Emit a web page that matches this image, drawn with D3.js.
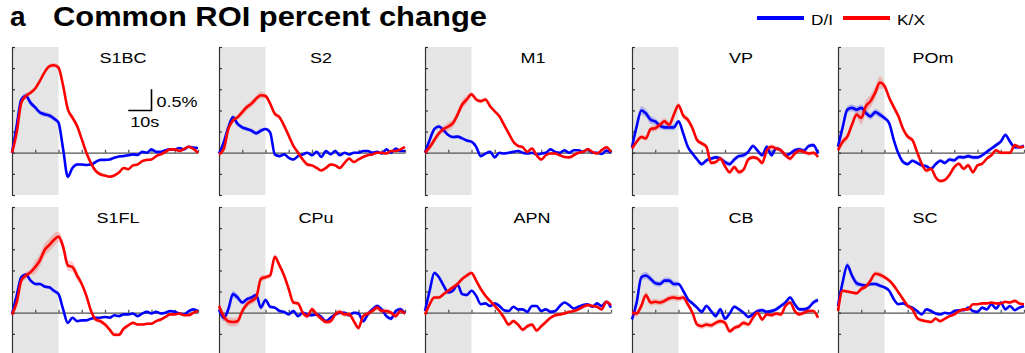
<!DOCTYPE html>
<html>
<head>
<meta charset="utf-8">
<script src="https://cdn.jsdelivr.net/npm/d3@7"></script>
<style>
  html, body { margin: 0; padding: 0; background: #fff; }
  svg { display: block; font-family: Arial, "Liberation Sans", sans-serif; }
</style>
</head>
<body>
<div id="chart"></div>
<script>
// % change traces, sampled every 2 s from 0 to 80 s (41 points each)
const TIME_STEP = 2;
const T_MAX = 80;
const STIM = [0, 20];          // shaded stimulus window, s
const Y_TICKS = [-1, -0.5, 0, 0.5, 1, 1.5, 2, 2.5];
const X_TICKS = [10, 20, 30, 40, 50, 60, 70, 80];
const SCALE_T = [50, 60];      // 10 s scale bar
const SCALE_V = [1.0, 1.5];    // 0.5 % scale bar

const REGIONS = ['S1BC', 'S2', 'M1', 'VP', 'POm', 'S1FL', 'CPu', 'APN', 'CB', 'SC'];
const CONDITIONS = ['D/I', 'K/X'];

const DI_S1BC = [0, 0.63, 1.26, 1.34, 1.18, 1.07, 0.95, 0.91, 0.88, 0.81, 0.71, 0.08, -0.57, -0.36, -0.28, -0.28, -0.29, -0.28, -0.22, -0.17, -0.17, -0.16, -0.12, -0.09, -0.08, -0.06, -0.04, -0.05, 0.02, 0, 0.08, 0.02, 0.02, 0.06, 0.08, 0.08, 0.11, 0.08, 0.14, 0.12, 0.11];
const KX_S1BC = [0, 0.47, 1.18, 1.34, 1.42, 1.52, 1.7, 1.9, 2.04, 2.07, 2.01, 1.58, 1.03, 0.83, 0.63, 0.32, 0, -0.25, -0.43, -0.51, -0.54, -0.57, -0.54, -0.47, -0.36, -0.39, -0.3, -0.28, -0.2, -0.17, -0.16, -0.08, -0.04, 0.02, 0.08, 0.08, 0.04, 0.09, 0.14, 0.09, 0];

const DI_S2 = [-0.02, 0.24, 0.6, 0.84, 0.68, 0.6, 0.56, 0.52, 0.46, 0.52, 0.56, 0.48, -0.04, -0.08, -0.04, -0.12, -0.16, -0.08, -0.04, 0, -0.06, 0.02, -0.1, 0.04, -0.04, 0.04, -0.06, 0, -0.04, 0, 0, 0.04, 0.04, 0, 0.02, -0.02, 0.08, 0, 0.1, 0.04, 0.04];
const KX_S2 = [-0.04, 0.08, 0.56, 0.76, 0.84, 0.96, 1.08, 1.16, 1.28, 1.36, 1.34, 1.16, 0.92, 0.84, 0.64, 0.4, 0.16, 0, -0.16, -0.28, -0.3, -0.36, -0.42, -0.36, -0.28, -0.3, -0.36, -0.24, -0.14, -0.22, -0.16, -0.1, -0.06, -0.04, 0, 0, -0.02, 0.04, 0.04, 0.08, 0.14];

const DI_M1 = [0, 0.3, 0.56, 0.62, 0.53, 0.42, 0.37, 0.38, 0.34, 0.29, 0.26, 0.14, -0.08, -0.02, 0.02, -0.11, 0, -0.02, 0, 0.02, 0.04, 0, -0.02, 0, -0.04, -0.02, 0, 0.08, 0.02, 0, 0.06, 0, 0.06, 0.06, 0.02, 0.08, 0, 0, -0.03, 0.05, 0];
const KX_M1 = [0, 0.13, 0.3, 0.46, 0.56, 0.62, 0.7, 0.9, 1.14, 1.26, 1.38, 1.26, 1.22, 1.26, 1.1, 0.98, 0.86, 0.66, 0.46, 0.26, 0.16, 0.13, 0.02, 0.1, -0.06, -0.16, -0.06, -0.02, -0.02, -0.06, -0.1, -0.11, -0.06, 0, 0.02, 0.08, 0.02, -0.02, 0.06, 0.13, 0.02];

const DI_VP = [0.13, 0.62, 1.0, 0.93, 0.78, 0.74, 0.64, 0.6, 0.6, 0.6, 0.74, 0.46, 0.14, -0.02, -0.16, -0.27, -0.18, -0.14, -0.11, -0.14, -0.22, -0.27, -0.16, -0.08, -0.06, 0.02, 0.16, 0.05, -0.06, 0.14, -0.06, 0.1, 0.06, -0.06, -0.02, 0.06, 0.08, 0.05, 0.16, 0.18, -0.02];
const KX_VP = [0.1, 0.26, 0.37, 0.34, 0.56, 0.58, 0.66, 0.74, 0.66, 0.9, 1.12, 0.88, 0.78, 0.58, 0.3, 0.22, 0.14, -0.24, -0.22, -0.14, -0.32, -0.46, -0.34, -0.46, -0.4, -0.16, -0.11, -0.14, -0.24, 0.06, 0.14, 0.1, 0.06, -0.06, -0.14, -0.02, 0.05, 0.02, -0.02, 0, -0.1];

const DI_POm = [0.14, 0.6, 1.02, 1.06, 1.02, 1.06, 0.94, 0.86, 0.96, 0.9, 0.82, 0.7, 0.3, -0.02, -0.22, -0.27, -0.19, -0.24, -0.3, -0.32, -0.38, -0.27, -0.19, -0.24, -0.16, -0.18, -0.1, -0.11, -0.08, -0.11, -0.11, -0.06, 0.02, 0.1, 0.18, 0.26, 0.42, 0.26, 0.13, 0.13, 0.16];
const KX_POm = [0.06, 0.26, 0.38, 0.66, 0.9, 0.82, 1.1, 1.22, 1.42, 1.66, 1.58, 1.3, 1.08, 0.86, 0.56, 0.38, 0.3, 0.02, -0.26, -0.42, -0.38, -0.58, -0.67, -0.64, -0.52, -0.34, -0.26, -0.38, -0.3, -0.46, -0.3, -0.26, -0.14, -0.06, 0.06, 0, 0, 0, 0.18, 0.13, 0.14];

const DI_S1FL = [-0.04, 0.4, 0.84, 0.9, 0.76, 0.68, 0.68, 0.62, 0.6, 0.52, 0.44, 0.08, -0.24, -0.12, -0.2, -0.18, -0.18, -0.14, -0.12, -0.12, -0.1, -0.12, -0.06, -0.08, -0.04, -0.04, -0.02, -0.08, -0.02, 0.02, -0.02, 0.02, -0.02, 0, 0.04, 0.02, -0.02, -0.04, 0.04, 0.08, 0.04];
const KX_S1FL = [-0.04, 0.24, 0.76, 0.88, 0.96, 1.08, 1.24, 1.48, 1.6, 1.72, 1.8, 1.56, 1.12, 1.08, 0.88, 0.68, 0.4, 0.04, -0.16, -0.2, -0.28, -0.4, -0.52, -0.52, -0.38, -0.3, -0.24, -0.28, -0.28, -0.26, -0.26, -0.2, -0.16, -0.1, -0.04, -0.04, -0.02, -0.06, -0.06, 0, 0.04];

const DI_CPu = [0.08, -0.12, 0.08, 0.44, 0.36, 0.24, 0.32, 0.36, 0.42, 0.12, 0.3, 0.14, 0.12, 0.04, 0.02, -0.04, 0.04, -0.08, 0, -0.04, -0.06, -0.04, -0.1, -0.2, -0.12, -0.04, 0, 0, -0.06, 0, -0.02, -0.2, -0.04, 0.08, 0.16, 0.08, -0.08, -0.14, 0.04, 0.08, -0.02];
const KX_CPu = [0.16, -0.08, -0.2, -0.22, -0.2, 0.04, 0.2, 0.28, 0.36, 0.8, 0.84, 0.88, 1.32, 1.12, 0.88, 0.56, 0.24, 0.22, 0, -0.08, 0.08, -0.04, -0.14, -0.22, -0.2, -0.04, 0.02, -0.04, -0.04, -0.2, -0.36, -0.08, -0.02, 0.04, 0.12, 0.04, 0.04, 0, -0.08, 0.04, -0.02];

const DI_APN = [0.04, 0.52, 0.94, 0.84, 0.64, 0.48, 0.52, 0.66, 0.44, 0.42, 0.52, 0.4, 0.2, 0.22, 0.16, 0.22, 0.16, 0.06, 0.04, 0.14, 0.08, 0.08, 0.02, 0.16, 0.16, 0.04, 0.08, 0.02, 0.04, 0.16, 0.24, 0.18, 0.1, 0.14, 0.18, 0.2, 0.14, 0.22, 0.16, 0.26, 0.12];
const KX_APN = [-0.04, 0.2, 0.36, 0.36, 0.44, 0.52, 0.6, 0.68, 0.8, 0.88, 0.94, 0.76, 0.56, 0.4, 0.28, 0.16, 0.04, -0.12, -0.28, -0.2, -0.28, -0.4, -0.32, -0.28, -0.42, -0.32, -0.22, -0.12, -0.06, -0.04, -0.02, 0.02, 0.04, 0.08, 0.14, 0.18, 0.16, 0.14, 0.08, 0.26, 0.18];

const DI_CB = [-0.16, 0.24, 0.84, 0.88, 0.8, 0.7, 0.68, 0.76, 0.76, 0.68, 0.68, 0.52, 0.32, 0.22, 0.12, 0.02, 0.16, 0.04, -0.08, 0.08, -0.14, -0.02, 0.14, 0.08, 0, -0.1, -0.04, 0.04, 0.06, 0.02, 0.04, 0.08, 0.16, 0.24, 0.36, 0.2, 0.08, 0.08, 0.12, 0.24, 0.3];
const KX_CB = [0, -0.02, 0.16, 0.42, 0.24, 0.26, 0.24, 0.28, 0.34, 0.36, 0.34, 0.36, 0.2, 0, -0.28, -0.32, -0.28, -0.3, -0.24, -0.2, -0.24, -0.44, -0.36, -0.32, -0.24, -0.28, -0.12, 0, -0.16, -0.04, -0.06, -0.02, -0.04, 0.16, 0.24, 0.04, -0.04, 0, 0.04, 0.04, -0.12];

const DI_SC = [0.16, 0.72, 1.12, 0.88, 0.7, 0.66, 0.64, 0.68, 0.68, 0.64, 0.6, 0.52, 0.32, 0.2, 0.22, 0.16, 0.12, 0.04, -0.04, 0.08, 0.04, -0.02, -0.04, 0, -0.02, 0.04, 0.06, 0.06, 0.12, 0.04, 0.02, 0.12, 0.08, 0.2, 0.1, 0.24, 0.08, 0.16, 0.06, 0.12, 0.16];
const KX_SC = [0.04, 0.52, 0.5, 0.48, 0.46, 0.56, 0.62, 0.76, 0.92, 0.9, 0.84, 0.76, 0.64, 0.48, 0.32, 0.16, 0.08, -0.12, -0.18, -0.2, -0.22, -0.14, -0.2, -0.14, -0.08, -0.04, 0.04, 0.08, 0.08, 0.2, 0.2, 0.22, 0.22, 0.24, 0.22, 0.22, 0.26, 0.24, 0.28, 0.22, 0.2];

// SEM half-widths, one value per 10 s bin
const SEM_DI = {
  S1BC: [0.07, 0.06, 0.04, 0.02, 0.02, 0.02, 0.02, 0.02],
  S2:   [0.06, 0.05, 0.03, 0.03, 0.02, 0.02, 0.02, 0.02],
  M1:   [0.05, 0.04, 0.03, 0.02, 0.02, 0.02, 0.02, 0.02],
  VP:   [0.10, 0.07, 0.04, 0.05, 0.06, 0.05, 0.04, 0.05],
  POm:  [0.08, 0.08, 0.06, 0.05, 0.05, 0.05, 0.05, 0.05],
  S1FL: [0.04, 0.04, 0.03, 0.02, 0.02, 0.02, 0.02, 0.02],
  CPu:  [0.08, 0.05, 0.04, 0.04, 0.04, 0.04, 0.05, 0.05],
  APN:  [0.05, 0.04, 0.03, 0.03, 0.03, 0.03, 0.03, 0.03],
  CB:   [0.08, 0.07, 0.05, 0.05, 0.05, 0.05, 0.05, 0.05],
  SC:   [0.08, 0.05, 0.03, 0.02, 0.02, 0.02, 0.02, 0.02],
};
const SEM_KX = {
  S1BC: [0.05, 0.05, 0.07, 0.05, 0.03, 0.02, 0.02, 0.02],
  S2:   [0.06, 0.08, 0.06, 0.05, 0.04, 0.03, 0.02, 0.02],
  M1:   [0.08, 0.10, 0.05, 0.04, 0.04, 0.03, 0.03, 0.03],
  VP:   [0.06, 0.08, 0.07, 0.05, 0.06, 0.05, 0.06, 0.05],
  POm:  [0.08, 0.15, 0.07, 0.06, 0.05, 0.05, 0.04, 0.04],
  S1FL: [0.08, 0.15, 0.12, 0.06, 0.05, 0.03, 0.03, 0.02],
  CPu:  [0.10, 0.08, 0.06, 0.06, 0.06, 0.06, 0.06, 0.06],
  APN:  [0.04, 0.06, 0.05, 0.05, 0.05, 0.04, 0.04, 0.04],
  CB:   [0.08, 0.07, 0.07, 0.07, 0.06, 0.05, 0.05, 0.05],
  SC:   [0.04, 0.06, 0.05, 0.04, 0.03, 0.03, 0.03, 0.03],
};

const TRACES = {
  S1BC: [DI_S1BC, KX_S1BC], S2: [DI_S2, KX_S2], M1: [DI_M1, KX_M1], VP: [DI_VP, KX_VP], POm: [DI_POm, KX_POm],
  S1FL: [DI_S1FL, KX_S1FL], CPu: [DI_CPu, KX_CPu], APN: [DI_APN, KX_APN], CB: [DI_CB, KX_CB], SC: [DI_SC, KX_SC],
};

// layout
const WIDTH = 1025, HEIGHT = 353;
const COLORS = ['#0000ff', '#ff0000'];
const BANDS = ['rgba(0,0,255,0.22)', 'rgba(255,0,0,0.2)'];
const SHADE = '#e5e5e5';
const AXIS = '#333';
const PANEL_X = [12, 219, 425, 632, 838];
const PANEL_W = 186;
const ROW_Y = [47, 207];
const PANEL_H = 148;
const TITLE_DX = [111, 102, 108, 109, 95, 106, 97, 107, 109, 87];
const TEXT_SX = 1.2; // panel text looks horizontally stretched

const svg = d3.select('#chart').append('svg').attr('width', WIDTH).attr('height', HEIGHT);

// header
svg.append('text').attr('x', 10).attr('y', 25.5).attr('font-size', 28).attr('font-weight', 'bold').text('a');
svg.append('text').attr('x', 53).attr('y', 25.5).attr('font-size', 28).attr('font-weight', 'bold')
  .attr('textLength', 434).attr('lengthAdjust', 'spacingAndGlyphs').text('Common ROI percent change');

// legend
const legendX = [757, 843];
const legendW = [22, 28];
CONDITIONS.forEach((c, i) => {
  svg.append('line').attr('x1', legendX[i]).attr('x2', legendX[i] + 47).attr('y1', 18).attr('y2', 18)
    .attr('stroke', COLORS[i]).attr('stroke-width', 4);
  svg.append('text').attr('x', legendX[i] + 54).attr('y', 24.5).attr('font-size', 15.5)
    .attr('textLength', legendW[i]).attr('lengthAdjust', 'spacingAndGlyphs').text(c);
});

const times = d3.range(0, T_MAX + 1, TIME_STEP);

REGIONS.forEach((name, k) => {
  const col = k % 5, row = Math.floor(k / 5);
  const left = PANEL_X[col], top = ROW_Y[row];
  const x = d3.scaleLinear().domain([0, T_MAX]).range([left, left + PANEL_W]);
  const y = d3.scaleLinear().domain([-1, 2.5]).range([top + PANEL_H, top]);
  const g = svg.append('g').attr('class', 'panel');

  g.append('rect')
    .attr('x', x(STIM[0])).attr('y', y(2.5))
    .attr('width', x(STIM[1]) - x(STIM[0])).attr('height', y(-1) - y(2.5))
    .attr('fill', SHADE);

  // zero line with 10 s ticks
  g.append('g').attr('transform', `translate(0,${y(0)})`)
    .call(d3.axisTop(x).tickValues(X_TICKS).tickSize(3).tickSizeOuter(0).tickFormat(''))
    .call((a) => a.selectAll('path,line').attr('stroke', '#555').attr('stroke-width', 1.3));

  g.append('g').attr('transform', `translate(${x(0)},0)`)
    .call(d3.axisLeft(y).tickValues(Y_TICKS).tickSizeInner(-3).tickSizeOuter(0).tickFormat(''))
    .call((a) => a.selectAll('path,line').attr('stroke', AXIS).attr('stroke-width', 1.2));

  const sems = [SEM_DI[name], SEM_KX[name]];
  TRACES[name].forEach((vals, i) => {
    const pts = vals.map((v, j) => ({ t: times[j], v, s: sems[i][Math.min(7, Math.floor(times[j] / 10))] }));
    const area = d3.area().x((d) => x(d.t)).y0((d) => y(d.v - d.s)).y1((d) => y(d.v + d.s)).curve(d3.curveMonotoneX);
    const line = d3.line().x((d) => x(d.t)).y((d) => y(d.v)).curve(d3.curveMonotoneX);
    g.append('path').datum(pts).attr('d', area).attr('fill', BANDS[i]);
    g.append('path').datum(pts).attr('d', line).attr('fill', 'none')
      .attr('stroke', COLORS[i]).attr('stroke-width', 2.6).attr('stroke-linejoin', 'round');
  });

  g.append('g').attr('transform', `translate(${left + TITLE_DX[k]},${top + 15.7}) scale(${TEXT_SX},1)`)
    .append('text').attr('text-anchor', 'middle').attr('font-size', 15).attr('fill', '#000').text(name);

  if (k === 0) {
    const bar = [[x(SCALE_T[0]), y(SCALE_V[0])], [x(SCALE_T[1]), y(SCALE_V[0])], [x(SCALE_T[1]), y(SCALE_V[1])]];
    g.append('path').attr('d', d3.line()(bar)).attr('fill', 'none').attr('stroke', '#000').attr('stroke-width', 1.6);
    g.append('g').attr('transform', `translate(${x(SCALE_T[1]) + 5},${y(SCALE_V[0]) - 3.5}) scale(${TEXT_SX},1)`)
      .append('text').attr('font-size', 15).text('0.5%');
    g.append('g').attr('transform', `translate(${x(SCALE_T[0]) + 2},${y(SCALE_V[0]) + 17}) scale(${TEXT_SX},1)`)
      .append('text').attr('font-size', 15).text('10s');
  }
});
</script>
</body>
</html>
